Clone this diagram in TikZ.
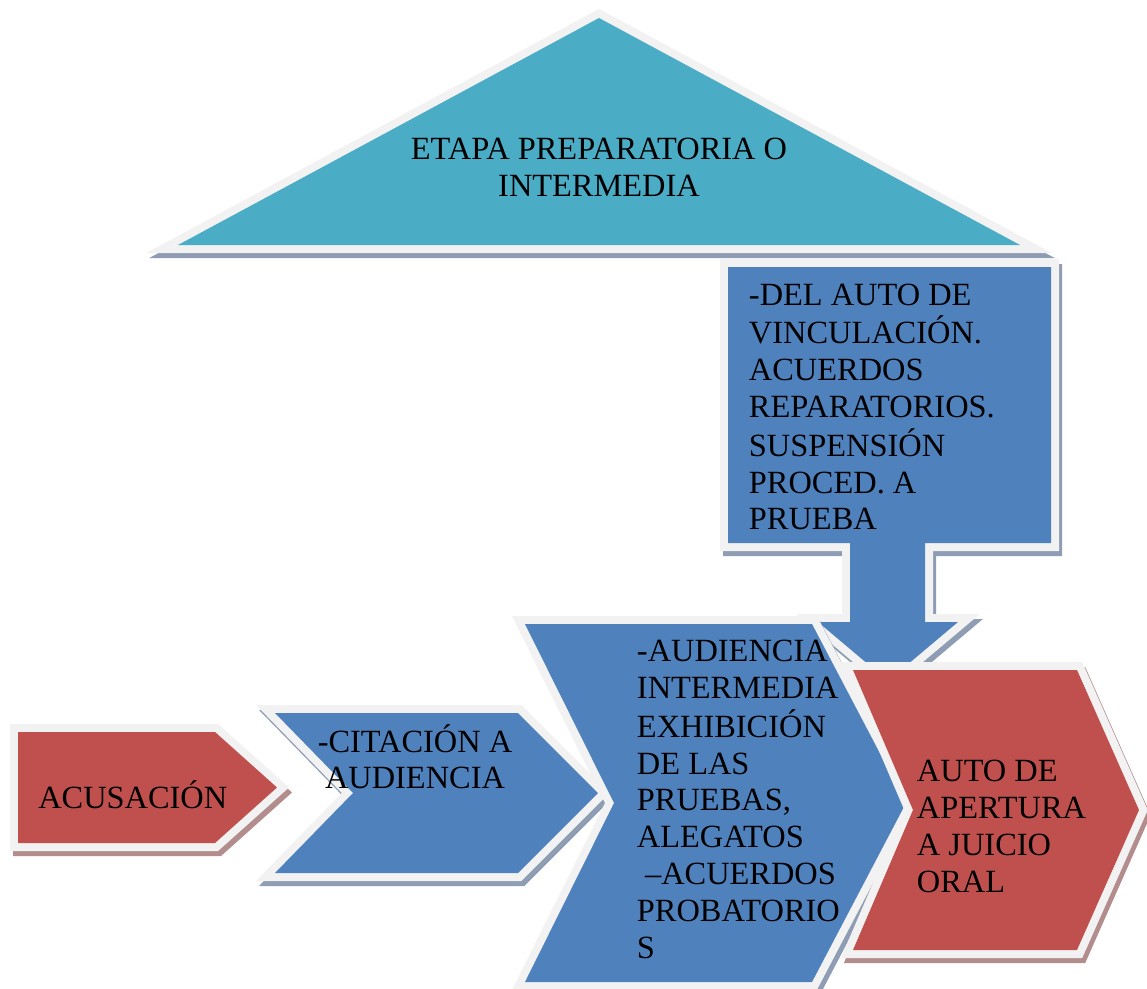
\documentclass[tikz,border=0pt]{standalone}
\usepackage{fontspec}
\setmainfont{Liberation Serif}
\definecolor{tealfill}{HTML}{4BACC6}
\definecolor{bluefill}{HTML}{4F81BD}
\definecolor{redfill}{HTML}{C0504D}
\definecolor{rim}{HTML}{F2F2F2}
\definecolor{blueshade}{HTML}{8E9DB4}
\definecolor{redshade}{HTML}{B38D8D}
% one panel: offset shadow, light rim, then the coloured body
\newcommand\panelshape[3]{%
  \filldraw[panelshadow=#2, shift={(3,5)}] #3 -- cycle;
  \draw[panelrim] #3 -- cycle;
  \fill[#1] #3 -- cycle;}
\begin{document}
\begin{tikzpicture}[x=0.75pt,y=-0.75pt,
  panelshadow/.style={fill=#1, draw=#1, line width=12pt, line join=miter, miter limit=10},
  panelrim/.style={draw=rim, line width=12pt, line join=miter, miter limit=10},
  labeltext/.style={font=\fontsize{24.3}{27.6}\selectfont, inner sep=0pt, text=black}]
\useasboundingbox[fill=white] (0,0) rectangle (1147,989);

% stage title
\panelshape{tealfill}{blueshade}{(178,245) -- (599,18) -- (1020,245)}
\node[labeltext, anchor=base] (stage) at (599,159.3)
  {\begin{tabular}[t]{@{}c@{}}ETAPA PREPARATORIA O\\INTERMEDIA\end{tabular}};

% down arrow callout
\panelshape{bluefill}{blueshade}{(728,267) -- (1051,267) -- (1051,543) -- (925,543) -- (925,622)
  -- (958,622) -- (888,681) -- (818,622) -- (850,622) -- (850,543) -- (728,543)}
\node[labeltext, anchor=base west] (salidas) at (748.7,305)
  {\begin{tabular}[t]{@{}l@{}}-DEL AUTO DE\\VINCULACIÓN.\\ACUERDOS\\REPARATORIOS.\\SUSPENSIÓN\\PROCED. A\\PRUEBA\end{tabular}};

% acusación
\panelshape{redfill}{redshade}{(18,732) -- (215,732) -- (277,787.5) -- (215,843) -- (18,843)}
\node[labeltext, anchor=base west] (acusacion) at (38,808) {ACUSACIÓN};

% citación
\panelshape{bluefill}{blueshade}{(275,713) -- (518,713) -- (598,793) -- (518,873) -- (275,873) -- (353,793)}
\node[labeltext, anchor=base] (citacion) at (415,752)
  {\begin{tabular}[t]{@{}c@{}}-CITACIÓN A\\AUDIENCIA\end{tabular}};

% audiencia intermedia
\panelshape{bluefill}{blueshade}{(525,624) -- (812,624) -- (906,803) -- (812,982) -- (525,982) -- (614,803)}
\node[labeltext, anchor=base west] (audiencia) at (636.7,661.7)
  {\begin{tabular}[t]{@{}l@{}}-AUDIENCIA\\INTERMEDIA\\EXHIBICIÓN\\DE LAS\\PRUEBAS,\\ALEGATOS\\\ –ACUERDOS\\PROBATORIO\\S\end{tabular}};

% auto de apertura
\panelshape{redfill}{redshade}{(853,670) -- (1077,670) -- (1139,810) -- (1077,950) -- (853,950) -- (913,810)}
\node[labeltext, anchor=base west] (apertura) at (916.7,781.7)
  {\begin{tabular}[t]{@{}l@{}}AUTO DE\\APERTURA\\A JUICIO\\ORAL\end{tabular}};
\end{tikzpicture}
\end{document}
